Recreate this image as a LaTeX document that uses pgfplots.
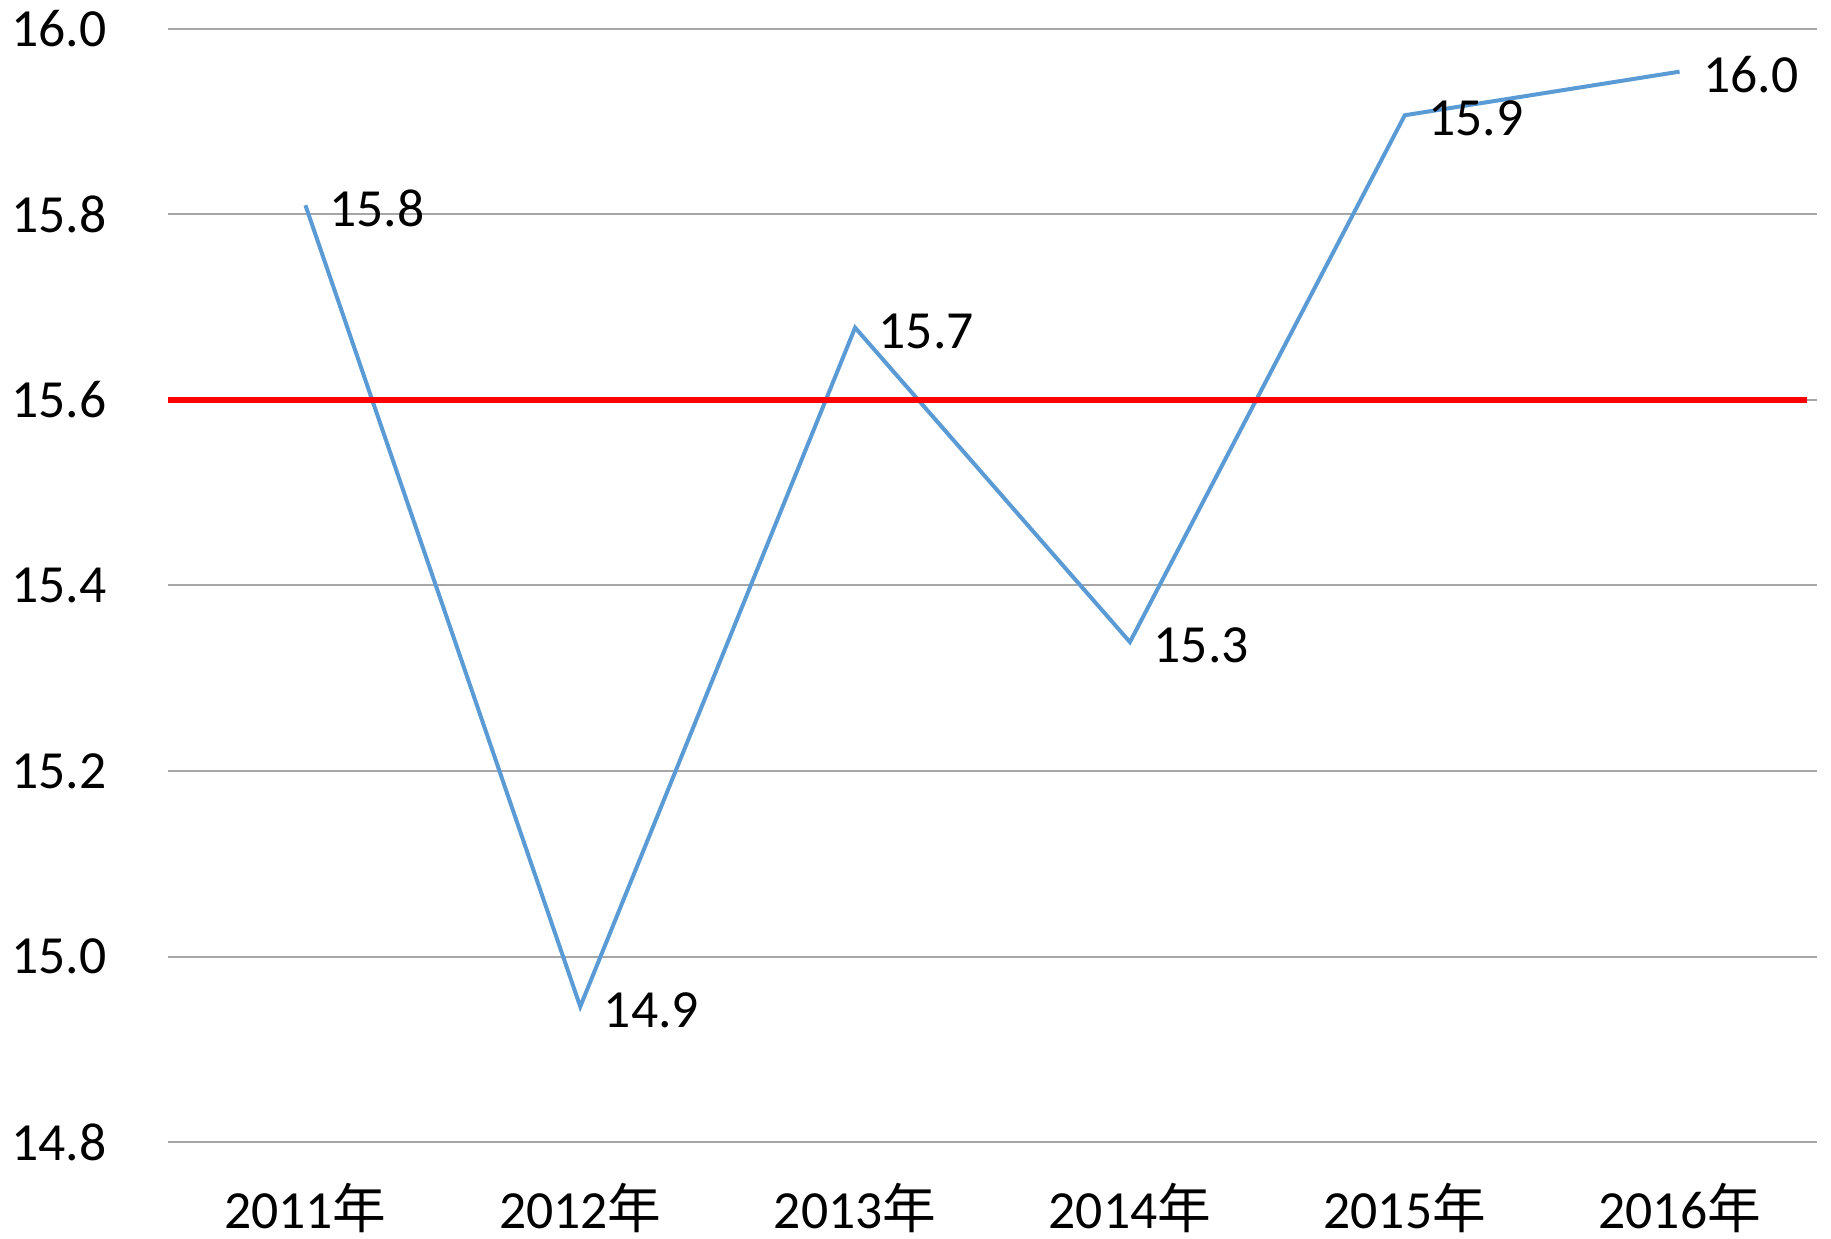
\documentclass[border=0pt]{standalone}
\usepackage{pgfplots}
\pgfplotsset{compat=1.18}
\usepackage{fontspec}
\setmainfont{Carlito}
\newfontfamily\cjk{Noto Sans CJK SC}
\definecolor{blueline}{HTML}{5B9BD5}
\definecolor{gridgray}{HTML}{A6A6A6}
\begin{document}
\begin{tikzpicture}
\begin{axis}[
  name=ax,
  scale only axis,
  width=494.7pt, height=333.9pt,
  xmin=-0.5, xmax=5.5,
  ymin=14.8, ymax=16.0,
  axis line style={draw=none},
  major tick length=0pt,
  xtick={0,1,2,3,4,5},
  xticklabels={2011{\cjk 年},2012{\cjk 年},2013{\cjk 年},2014{\cjk 年},2015{\cjk 年},2016{\cjk 年}},
  ytick={14.8,15.0,15.2,15.4,15.6,15.8,16.0},
  yticklabel={\pgfmathprintnumber[fixed,fixed zerofill,precision=1]{\tick}},
  /pgf/number format/assume math mode=true,
  ymajorgrids,
  grid style={draw=gridgray, line width=0.6pt},
  tick label style={font=\fontsize{16.1}{18}\selectfont, inner sep=0pt},
  xticklabel style={anchor=base, yshift=-25.8pt},
  yticklabel style={anchor=east, xshift=-18.3pt},
  clip=false,
  nodes near coords,
  point meta=explicit symbolic,
  every node near coord/.style={anchor=west, inner sep=0pt, xshift=6.5pt, yshift=-1pt, font=\fontsize{16.1}{18}\selectfont, text=black},
]
\addplot[color=blueline, line width=1.2pt, mark=none] coordinates {
  (0,15.81) [15.8]
  (1,14.946) [14.9]
  (2,15.678) [15.7]
  (3,15.339) [15.3]
  (4,15.907) [15.9]
  (5,15.954) [16.0]
};
\addplot[color=red, line width=1.8pt, mark=none, nodes near coords=] coordinates {(-0.5,15.6) (5.464,15.6)};
\end{axis}
\pgfresetboundingbox
\path[use as bounding box] ([shift={(-50.4pt,-28.8pt)}]ax.south west) rectangle ([shift={(4.2pt,8.7pt)}]ax.north east);
\end{tikzpicture}
\end{document}
